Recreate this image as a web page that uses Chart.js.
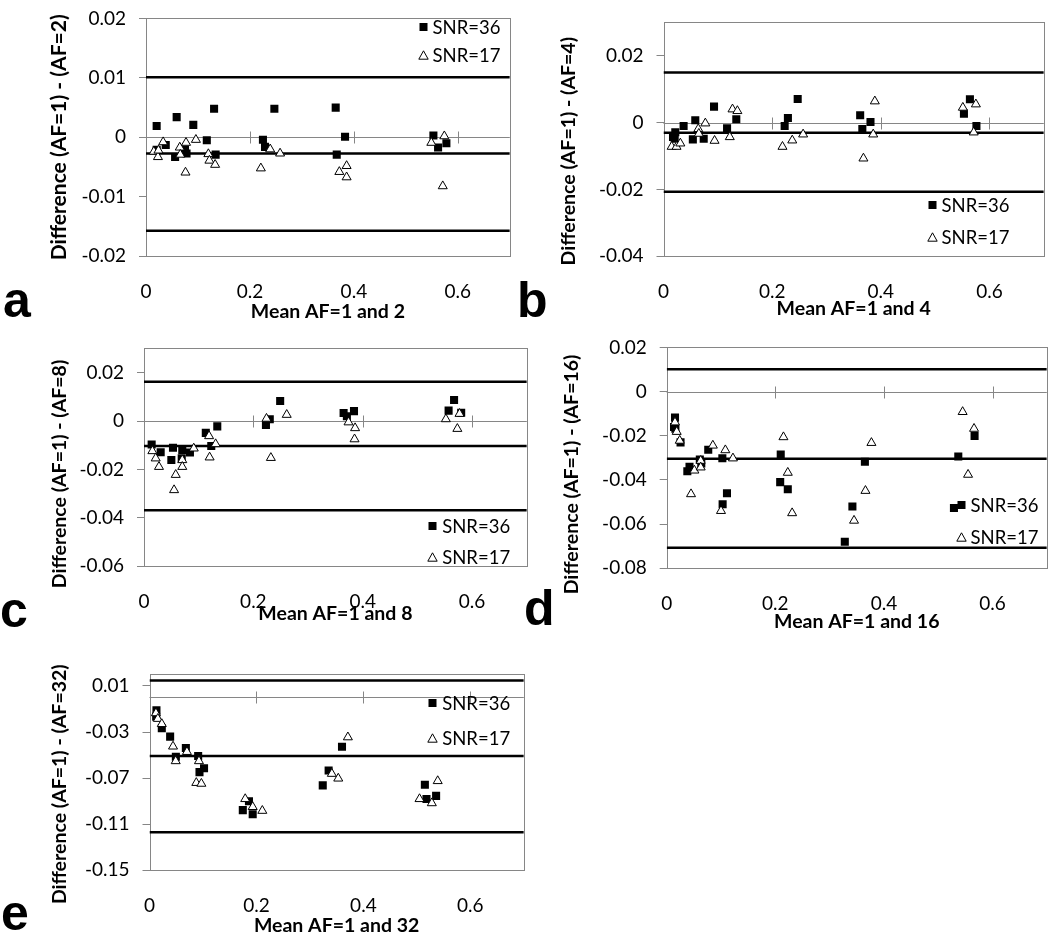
<!DOCTYPE html>
<html>
<head>
<meta charset="utf-8">
<script src="https://cdn.jsdelivr.net/npm/chart.js@4.4.0/dist/chart.umd.min.js"></script>
<style>
  body { margin:0; background:#fff; width:1050px; height:940px; overflow:hidden; position:relative; font-family:Lato, sans-serif; }
  canvas { position:absolute; }
  .letter { position:absolute; font:bold 50px "Liberation Sans", Arial, sans-serif; line-height:50px; color:#000; }
  .leg { position:absolute; height:24px; display:flex; align-items:center; font:18.5px Lato, sans-serif; color:#000; white-space:nowrap; }
  .leg svg { margin-right:4px; }
</style>
</head>
<body>
<script>
// ---- data ----
const seriesLabels = ['SNR=36', 'SNR=17'];
const xTicks = [0, 0.2, 0.4, 0.6];

const yTicksA = [-0.02, -0.01, 0, 0.01, 0.02];
const yTicksB = [-0.04, -0.02, 0, 0.02];
const yTicksC = [-0.06, -0.04, -0.02, 0, 0.02];
const yTicksD = [-0.08, -0.06, -0.04, -0.02, 0, 0.02];
const yTicksE = [-0.15, -0.11, -0.07, -0.03, 0.01];

// upper limit, mean, lower limit
const limitsA = [0.0101, -0.0027, -0.0157];
const limitsB = [0.0150, -0.0030, -0.0207];
const limitsC = [0.0162, -0.0103, -0.0369];
const limitsD = [0.0101, -0.0304, -0.0707];
const limitsE = [0.0147, -0.0508, -0.1170];

const snr36A = [[0.0205,0.0019],[0.059,0.0034],[0.091,0.0021],[0.131,0.0048],[0.117,-0.0005],[0.134,-0.0029],[0.038,-0.0013],[0.056,-0.0033],[0.075,-0.0021],[0.078,-0.0027],[0.0205,-0.0021],
  [0.225,-0.0004],[0.229,-0.0016],[0.247,0.0048],[0.365,0.0050],[0.383,0.0001],[0.367,-0.0029],[0.553,0.0003],[0.562,-0.0017],[0.578,-0.0010]];
const snr17A = [[0.015,-0.0024],[0.023,-0.0033],[0.024,-0.0022],[0.033,-0.0008],[0.065,-0.0017],[0.066,-0.0029],[0.076,-0.0059],[0.077,-0.0009],[0.096,-0.0004],[0.120,-0.0028],[0.122,-0.0039],[0.133,-0.0046],
  [0.221,-0.0052],[0.239,-0.0020],[0.258,-0.0027],[0.372,-0.0058],[0.386,-0.0048],[0.386,-0.0067],[0.549,-0.0009],[0.574,0.0002],[0.571,-0.0082]];

const snr36B = [[0.0175,-0.0043],[0.0206,-0.0048],[0.0217,-0.0029],[0.037,-0.0010],[0.0585,0.0007],[0.054,-0.0050],[0.074,-0.0048],[0.093,0.0048],[0.117,-0.0017],[0.134,0.0010],
  [0.223,-0.0010],[0.229,0.0014],[0.247,0.0071],[0.362,0.0022],[0.366,-0.0019],[0.381,0.0002],[0.553,0.0027],[0.564,0.0070],[0.576,-0.0010]];
const snr17B = [[0.015,-0.0072],[0.024,-0.0072],[0.031,-0.0062],[0.064,-0.0019],[0.065,-0.0033],[0.077,-0.0002],[0.094,-0.0054],[0.122,-0.0043],[0.127,0.0040],[0.136,0.0035],
  [0.219,-0.0072],[0.237,-0.0053],[0.257,-0.0035],[0.389,0.0064],[0.386,-0.0035],[0.368,-0.0107],[0.551,0.0045],[0.575,0.0055],[0.571,-0.0029]];

const snr36C = [[0.014,-0.0097],[0.0305,-0.0129],[0.050,-0.0161],[0.053,-0.0110],[0.070,-0.0120],[0.069,-0.0154],[0.084,-0.0130],[0.113,-0.0049],[0.123,-0.0103],[0.134,-0.0022],
  [0.223,-0.0016],[0.230,0.0007],[0.249,0.0083],[0.365,0.0033],[0.371,0.0020],[0.384,0.0041],[0.557,0.0043],[0.567,0.0087],[0.580,0.0034]];
const snr17C = [[0.0153,-0.0124],[0.0214,-0.0154],[0.0274,-0.0189],[0.058,-0.0222],[0.055,-0.0285],[0.070,-0.0161],[0.070,-0.0189],[0.091,-0.0113],[0.119,-0.0062],[0.131,-0.0095],[0.120,-0.0150],
  [0.224,0.0010],[0.232,-0.0152],[0.261,0.0026],[0.374,-0.0005],[0.386,-0.0029],[0.385,-0.0075],[0.552,0.0008],[0.577,0.0030],[0.573,-0.0032]];

const snr36D = [[0.0153,-0.0118],[0.0135,-0.0160],[0.016,-0.0168],[0.0255,-0.0230],[0.038,-0.0361],[0.042,-0.0340],[0.061,-0.0308],[0.0637,-0.0325],[0.0765,-0.0263],[0.1025,-0.0302],[0.111,-0.0460],[0.103,-0.0510],
  [0.210,-0.0285],[0.209,-0.0410],[0.223,-0.0442],[0.328,-0.0680],[0.342,-0.0520],[0.365,-0.0318],[0.537,-0.0294],[0.567,-0.0201],[0.529,-0.0527]];
const snr17D = [[0.0153,-0.0139],[0.0184,-0.0182],[0.024,-0.0222],[0.0448,-0.0464],[0.051,-0.0357],[0.0626,-0.0313],[0.0626,-0.0343],[0.085,-0.0244],[0.108,-0.0265],[0.122,-0.0302],[0.100,-0.0540],
  [0.215,-0.0206],[0.223,-0.0367],[0.231,-0.0550],[0.345,-0.0584],[0.366,-0.0449],[0.377,-0.0232],[0.545,-0.0092],[0.566,-0.0168],[0.555,-0.0376]];

const snr36E = [[0.013,-0.0112],[0.0125,-0.0167],[0.023,-0.0268],[0.0386,-0.0340],[0.0493,-0.0515],[0.068,-0.0438],[0.091,-0.0508],[0.0935,-0.0648],[0.102,-0.0614],
  [0.1745,-0.0978],[0.186,-0.0900],[0.193,-0.1013],[0.324,-0.0763],[0.335,-0.0634],[0.360,-0.0428],[0.515,-0.0758],[0.518,-0.0881],[0.536,-0.0854]];
const snr17E = [[0.012,-0.0136],[0.0156,-0.0185],[0.023,-0.0230],[0.044,-0.0425],[0.049,-0.0552],[0.070,-0.0472],[0.0925,-0.0552],[0.0875,-0.0741],[0.097,-0.0748],
  [0.179,-0.0881],[0.193,-0.0950],[0.211,-0.0983],[0.341,-0.0662],[0.353,-0.0703],[0.371,-0.0345],[0.505,-0.0881],[0.528,-0.0917],[0.539,-0.0725]];

// ---- layout: plot box (L,T,R,B), y max, y-title centre x / size / downward shift, x-title offset, legend, letter ----
const panels = [
  { id:'a', af:2,  yTicks:yTicksA, yMax:0.02, limits:limitsA, s36:snr36A, s17:snr17A, box:[146,8,510,256],
    titleX:60,    ySize:21,   yShift:0,  titleDY:55, leg:[423,26.7,55],       letter:[3,275] },
  { id:'b', af:4,  yTicks:yTicksB, yMax:0.03, limits:limitsB, s36:snr36B, s17:snr17B, box:[663.5,12,1044,256],
    titleX:568.3, ySize:19.5, yShift:9,  titleDY:52, leg:[932,205,236.7],     letter:[517,275] },
  { id:'c', af:8,  yTicks:yTicksC, yMax:0.03, limits:limitsC, s36:snr36C, s17:snr17C, box:[144,338.4,526.6,566],
    titleX:60,    ySize:19.5, yShift:14, titleDY:47, leg:[432.7,525.7,557.3], letter:[0,585] },
  { id:'d', af:16, yTicks:yTicksD, yMax:0.02, limits:limitsD, s36:snr36D, s17:snr17D, box:[666.7,336.5,1047,568.7],
    titleX:571.7, ySize:19.5, yShift:13, titleDY:53, leg:[961,505,537],       letter:[524,583] },
  { id:'e', af:32, yTicks:yTicksE, yMax:0.02, limits:limitsE, s36:snr36E, s17:snr17E, box:[149.5,664,524,870],
    titleX:60,    ySize:19.5, yShift:10, titleDY:55, leg:[432.7,703.3,737.7], letter:[1,888] }
];

const FONT = 'Lato';
const GREY = '#868686';

// grey plot frame + horizontal axis at y = 0 with crossing tick marks
const framePlugin = {
  id: 'frame',
  beforeDatasetsDraw(chart) {
    const { ctx, chartArea: a, scales: { x, y } } = chart;
    ctx.save();
    ctx.strokeStyle = GREY;
    ctx.lineWidth = 1;
    ctx.strokeRect(Math.round(a.left) + 0.5, Math.round(a.top) + 0.5, Math.round(a.right - a.left), Math.round(a.bottom - a.top));
    const y0 = Math.round(y.getPixelForValue(0)) + 0.5;
    ctx.beginPath();
    ctx.moveTo(a.left, y0);
    ctx.lineTo(a.right, y0);
    xTicks.slice(1).forEach(v => {
      const px = Math.round(x.getPixelForValue(v)) + 0.5;
      ctx.moveTo(px, y0 - 6);
      ctx.lineTo(px, y0 + 6);
    });
    ctx.stroke();
    ctx.restore();
  }
};

function triSvg() {
  return '<svg width="11" height="10" viewBox="0 0 11 10"><polygon points="5.5,0.8 10.2,9.2 0.8,9.2" fill="#fff" stroke="#000" stroke-width="1"/></svg>';
}
function sqSvg() {
  return '<svg width="11" height="10" viewBox="0 0 11 10"><rect x="1.5" y="1" width="8" height="8" fill="#000"/></svg>';
}

panels.forEach(p => {
  const [L, T, R, B] = p.box;
  const lh = p.ySize * 1.2;
  const left = Math.round(p.titleX - lh / 2);
  const top = Math.round(T - 14);
  const YW = L - left;
  const XH = p.titleDY + 19.5 * 1.2 / 2;
  const W = Math.round(R + 6 - left);
  const H = Math.round(B + XH - top);

  const cv = document.createElement('canvas');
  cv.width = W; cv.height = H;
  cv.style.left = left + 'px'; cv.style.top = top + 'px';
  cv.style.width = W + 'px'; cv.style.height = H + 'px';
  document.body.appendChild(cv);

  const toPts = arr => arr.map(([x, y]) => ({ x, y }));
  const limitSets = p.limits.map(v => ({
    data: [{ x: 0, y: v }, { x: 0.7, y: v }],
    showLine: true, borderColor: '#000', borderWidth: 2.5, pointRadius: 0, order: 2
  }));
  // trailing spaces push the rotated title a little lower, as in the figure
  const yTitle = 'Difference (AF=1) - (AF=' + p.af + ')' + '\u00a0'.repeat(Math.round(p.yShift / 2));

  new Chart(cv, {
    type: 'scatter',
    data: {
      datasets: [
        { label: seriesLabels[1], data: toPts(p.s17), pointStyle: 'triangle', pointRadius: 5.2,
          backgroundColor: '#fff', borderColor: '#000', borderWidth: 1, order: 0 },
        { label: seriesLabels[0], data: toPts(p.s36), pointStyle: 'rect', pointRadius: 5.7,
          backgroundColor: '#000', borderColor: '#000', borderWidth: 0, order: 1 },
        ...limitSets
      ]
    },
    options: {
      responsive: false, animation: false, events: [],
      layout: { padding: { left: 0, top: 14, right: 6, bottom: 0 } },
      plugins: { legend: { display: false }, tooltip: { enabled: false } },
      scales: {
        x: {
          type: 'linear', min: 0, max: 0.7,
          afterBuildTicks: s => { s.ticks = xTicks.map(v => ({ value: v })); },
          afterFit: s => { s.height = XH; },
          grid: { display: false }, border: { display: false },
          ticks: { padding: 16, color: '#000', font: { family: FONT, size: 19 }, callback: v => String(v) },
          title: { display: true, text: 'Mean AF=1 and ' + p.af, color: '#000', padding: 0,
                   font: { family: FONT, size: 19.5, weight: 'bold' } }
        },
        y: {
          type: 'linear', min: p.yTicks[0], max: p.yMax,
          afterBuildTicks: s => { s.ticks = p.yTicks.map(v => ({ value: v })); },
          afterFit: s => { s.width = YW; },
          grid: { drawOnChartArea: false, drawTicks: true, tickLength: 7, color: GREY },
          border: { display: false },
          ticks: { padding: 13, color: '#000', font: { family: FONT, size: 19 }, callback: v => String(v) },
          title: { display: true, text: yTitle, color: '#000', padding: 0,
                   font: { family: FONT, size: p.ySize, weight: 'bold' } }
        }
      }
    },
    plugins: [framePlugin]
  });

  // legend (inside plot area, as in the figure)
  const [mx, r1, r2] = p.leg;
  [[sqSvg(), seriesLabels[0], r1], [triSvg(), seriesLabels[1], r2]].forEach(([svg, txt, ry]) => {
    const d = document.createElement('div');
    d.className = 'leg';
    d.style.left = (mx - 5.5) + 'px';
    d.style.top = (ry - 12) + 'px';
    d.innerHTML = svg + '<span>' + txt + '</span>';
    document.body.appendChild(d);
  });

  const lt = document.createElement('div');
  lt.className = 'letter';
  lt.style.left = p.letter[0] + 'px';
  lt.style.top = p.letter[1] + 'px';
  lt.textContent = p.id;
  document.body.appendChild(lt);
});
</script>
</body>
</html>
